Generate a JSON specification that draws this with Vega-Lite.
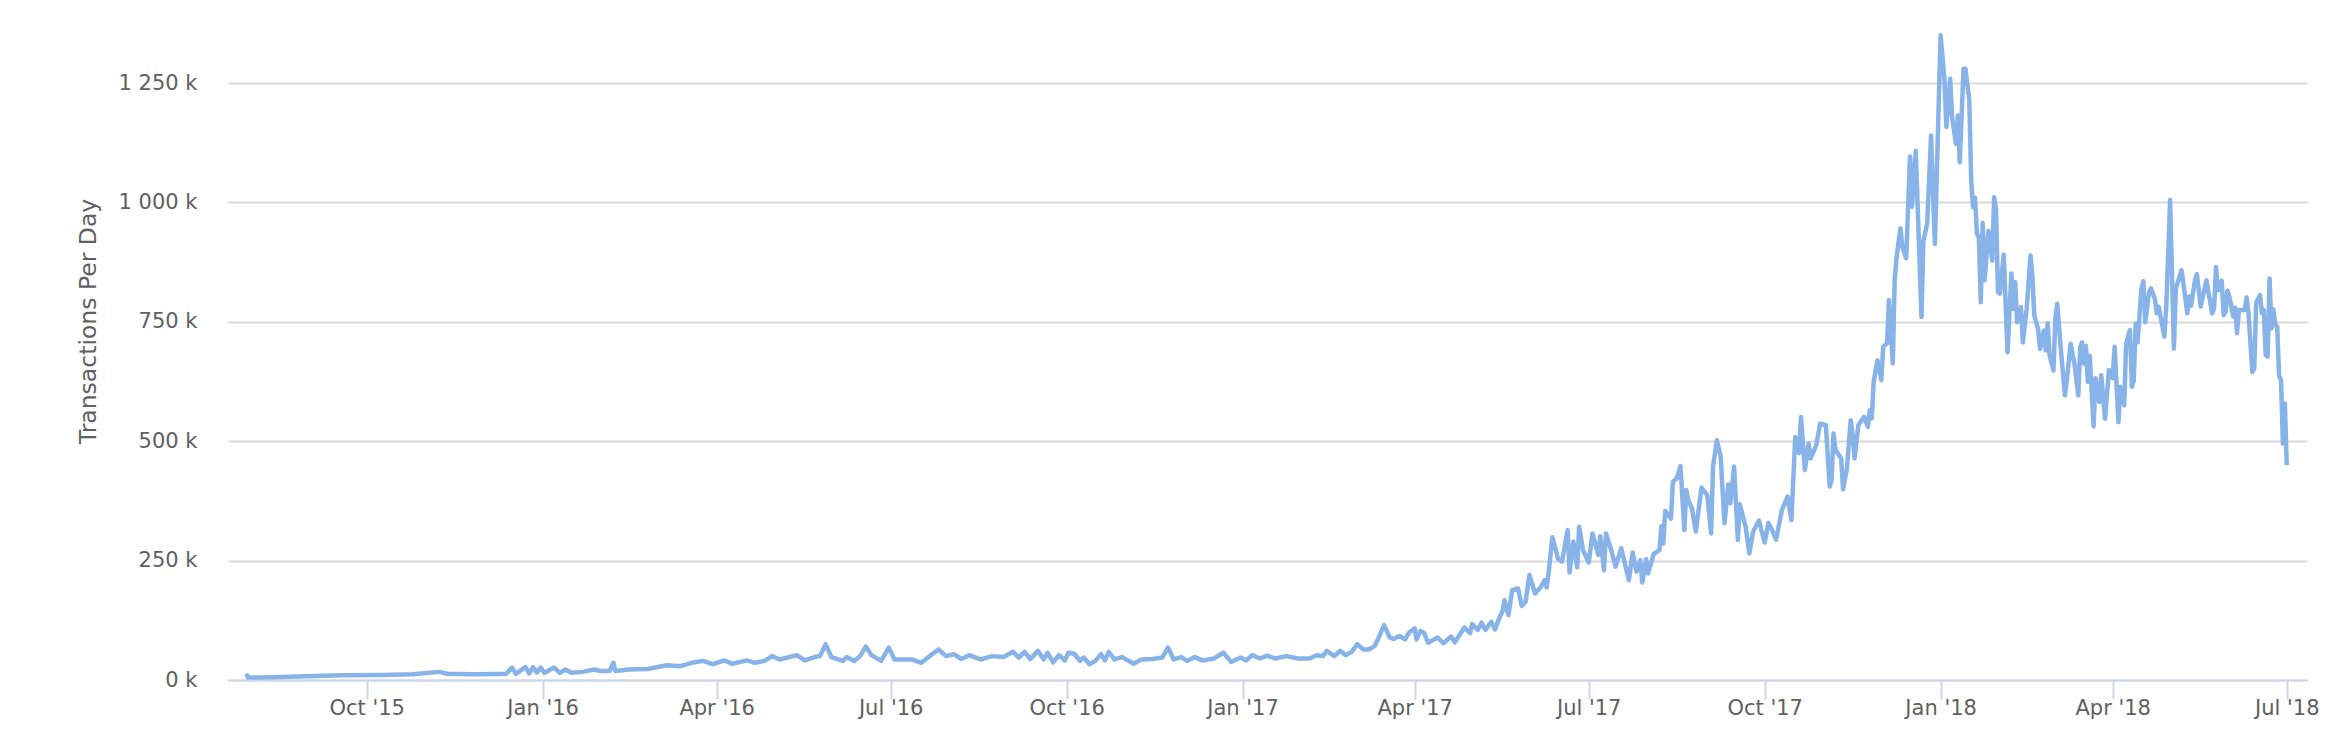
{
  "$schema": "https://vega.github.io/schema/vega-lite/v6.json",
  "width": 2079,
  "height": 659,
  "autosize": {"type": "none"},
  "padding": {"left": 228, "top": 21, "right": 41, "bottom": 62},
  "background": "white",
  "config": {"view": {"stroke": null}},
  "data": {
    "values": [
      {"d": "2015-07-30", "v": 13000}, {"d": "2015-07-31", "v": 5000}, {"d": "2015-08-13", "v": 6000},
      {"d": "2015-08-30", "v": 8000}, {"d": "2015-09-19", "v": 10000}, {"d": "2015-10-09", "v": 10500},
      {"d": "2015-10-25", "v": 12000}, {"d": "2015-11-08", "v": 17000}, {"d": "2015-11-12", "v": 13000},
      {"d": "2015-11-26", "v": 12000}, {"d": "2015-12-08", "v": 12500}, {"d": "2015-12-13", "v": 13000},
      {"d": "2015-12-16", "v": 26000}, {"d": "2015-12-18", "v": 13000}, {"d": "2015-12-23", "v": 27000},
      {"d": "2015-12-25", "v": 14000}, {"d": "2015-12-27", "v": 27000}, {"d": "2015-12-29", "v": 16000},
      {"d": "2015-12-31", "v": 26000}, {"d": "2016-01-02", "v": 15000}, {"d": "2016-01-07", "v": 26000},
      {"d": "2016-01-10", "v": 15000}, {"d": "2016-01-13", "v": 22000}, {"d": "2016-01-16", "v": 15000},
      {"d": "2016-01-22", "v": 17000}, {"d": "2016-01-28", "v": 22000}, {"d": "2016-01-31", "v": 19000},
      {"d": "2016-02-05", "v": 19000}, {"d": "2016-02-07", "v": 36000}, {"d": "2016-02-08", "v": 19000},
      {"d": "2016-02-15", "v": 22000}, {"d": "2016-02-25", "v": 23000}, {"d": "2016-03-06", "v": 31000},
      {"d": "2016-03-13", "v": 29000}, {"d": "2016-03-19", "v": 36000}, {"d": "2016-03-25", "v": 40000},
      {"d": "2016-03-30", "v": 33000}, {"d": "2016-04-05", "v": 41000}, {"d": "2016-04-09", "v": 34000},
      {"d": "2016-04-17", "v": 41000}, {"d": "2016-04-21", "v": 36000}, {"d": "2016-04-26", "v": 40000},
      {"d": "2016-04-30", "v": 50000}, {"d": "2016-05-04", "v": 43000}, {"d": "2016-05-13", "v": 52000},
      {"d": "2016-05-17", "v": 41000}, {"d": "2016-05-23", "v": 49000}, {"d": "2016-05-25", "v": 50000},
      {"d": "2016-05-28", "v": 75000}, {"d": "2016-05-31", "v": 48000}, {"d": "2016-06-06", "v": 40000},
      {"d": "2016-06-08", "v": 48000}, {"d": "2016-06-12", "v": 40000}, {"d": "2016-06-15", "v": 50000},
      {"d": "2016-06-18", "v": 70000}, {"d": "2016-06-21", "v": 52000}, {"d": "2016-06-26", "v": 40000},
      {"d": "2016-06-30", "v": 68000}, {"d": "2016-07-03", "v": 43000}, {"d": "2016-07-12", "v": 43000},
      {"d": "2016-07-17", "v": 36000}, {"d": "2016-07-22", "v": 52000}, {"d": "2016-07-26", "v": 64000},
      {"d": "2016-07-30", "v": 50000}, {"d": "2016-08-03", "v": 54000}, {"d": "2016-08-07", "v": 44000},
      {"d": "2016-08-11", "v": 52000}, {"d": "2016-08-17", "v": 43000}, {"d": "2016-08-23", "v": 50000},
      {"d": "2016-08-29", "v": 48000}, {"d": "2016-09-03", "v": 59000}, {"d": "2016-09-06", "v": 47000},
      {"d": "2016-09-09", "v": 59000}, {"d": "2016-09-12", "v": 44000}, {"d": "2016-09-16", "v": 61000},
      {"d": "2016-09-19", "v": 43000}, {"d": "2016-09-21", "v": 57000}, {"d": "2016-09-24", "v": 37000},
      {"d": "2016-09-27", "v": 52000}, {"d": "2016-09-30", "v": 41000}, {"d": "2016-10-02", "v": 57000},
      {"d": "2016-10-05", "v": 55000}, {"d": "2016-10-08", "v": 40000}, {"d": "2016-10-10", "v": 47000},
      {"d": "2016-10-13", "v": 33000}, {"d": "2016-10-16", "v": 40000}, {"d": "2016-10-19", "v": 54000},
      {"d": "2016-10-21", "v": 41000}, {"d": "2016-10-23", "v": 59000}, {"d": "2016-10-26", "v": 43000},
      {"d": "2016-10-30", "v": 48000}, {"d": "2016-11-02", "v": 41000}, {"d": "2016-11-05", "v": 34000},
      {"d": "2016-11-09", "v": 43000}, {"d": "2016-11-15", "v": 44000}, {"d": "2016-11-20", "v": 47000},
      {"d": "2016-11-23", "v": 68000}, {"d": "2016-11-26", "v": 43000}, {"d": "2016-11-30", "v": 48000},
      {"d": "2016-12-03", "v": 40000}, {"d": "2016-12-07", "v": 48000}, {"d": "2016-12-11", "v": 41000},
      {"d": "2016-12-17", "v": 45000}, {"d": "2016-12-22", "v": 57000}, {"d": "2016-12-26", "v": 38000},
      {"d": "2016-12-31", "v": 47000}, {"d": "2017-01-03", "v": 41000}, {"d": "2017-01-06", "v": 52000},
      {"d": "2017-01-10", "v": 45000}, {"d": "2017-01-14", "v": 51000}, {"d": "2017-01-18", "v": 45000},
      {"d": "2017-01-24", "v": 50000}, {"d": "2017-01-30", "v": 45000}, {"d": "2017-02-05", "v": 45000},
      {"d": "2017-02-09", "v": 52000}, {"d": "2017-02-12", "v": 50000}, {"d": "2017-02-14", "v": 61000},
      {"d": "2017-02-18", "v": 50000}, {"d": "2017-02-21", "v": 61000}, {"d": "2017-02-24", "v": 52000},
      {"d": "2017-02-27", "v": 59000}, {"d": "2017-03-02", "v": 75000}, {"d": "2017-03-05", "v": 64000},
      {"d": "2017-03-08", "v": 64000}, {"d": "2017-03-11", "v": 71000}, {"d": "2017-03-13", "v": 87000},
      {"d": "2017-03-16", "v": 115000}, {"d": "2017-03-19", "v": 89000}, {"d": "2017-03-21", "v": 86000},
      {"d": "2017-03-24", "v": 92000}, {"d": "2017-03-27", "v": 85000}, {"d": "2017-03-29", "v": 99000},
      {"d": "2017-04-01", "v": 108000}, {"d": "2017-04-02", "v": 85000}, {"d": "2017-04-04", "v": 103000},
      {"d": "2017-04-06", "v": 98000}, {"d": "2017-04-08", "v": 78000}, {"d": "2017-04-13", "v": 89000},
      {"d": "2017-04-16", "v": 77000}, {"d": "2017-04-20", "v": 91000}, {"d": "2017-04-22", "v": 79000},
      {"d": "2017-04-27", "v": 110000}, {"d": "2017-04-30", "v": 98000}, {"d": "2017-05-01", "v": 117000},
      {"d": "2017-05-04", "v": 105000}, {"d": "2017-05-06", "v": 120000}, {"d": "2017-05-08", "v": 105000},
      {"d": "2017-05-11", "v": 122000}, {"d": "2017-05-13", "v": 106000}, {"d": "2017-05-15", "v": 127000},
      {"d": "2017-05-17", "v": 145000}, {"d": "2017-05-18", "v": 167000}, {"d": "2017-05-20", "v": 136000},
      {"d": "2017-05-22", "v": 188000}, {"d": "2017-05-25", "v": 192000}, {"d": "2017-05-27", "v": 155000},
      {"d": "2017-05-29", "v": 164000}, {"d": "2017-05-31", "v": 220000}, {"d": "2017-06-03", "v": 181000},
      {"d": "2017-06-06", "v": 195000}, {"d": "2017-06-08", "v": 209000}, {"d": "2017-06-09", "v": 194000},
      {"d": "2017-06-10", "v": 223000}, {"d": "2017-06-12", "v": 299000}, {"d": "2017-06-14", "v": 269000},
      {"d": "2017-06-15", "v": 253000}, {"d": "2017-06-17", "v": 248000}, {"d": "2017-06-20", "v": 314000},
      {"d": "2017-06-21", "v": 225000}, {"d": "2017-06-23", "v": 290000}, {"d": "2017-06-25", "v": 236000},
      {"d": "2017-06-26", "v": 321000}, {"d": "2017-06-28", "v": 272000}, {"d": "2017-07-01", "v": 246000},
      {"d": "2017-07-03", "v": 307000}, {"d": "2017-07-06", "v": 262000}, {"d": "2017-07-07", "v": 301000},
      {"d": "2017-07-09", "v": 230000}, {"d": "2017-07-10", "v": 307000}, {"d": "2017-07-13", "v": 269000},
      {"d": "2017-07-15", "v": 237000}, {"d": "2017-07-18", "v": 276000}, {"d": "2017-07-22", "v": 209000},
      {"d": "2017-07-24", "v": 267000}, {"d": "2017-07-26", "v": 227000}, {"d": "2017-07-28", "v": 251000},
      {"d": "2017-07-29", "v": 204000}, {"d": "2017-07-31", "v": 253000}, {"d": "2017-08-01", "v": 223000},
      {"d": "2017-08-04", "v": 264000}, {"d": "2017-08-07", "v": 272000}, {"d": "2017-08-08", "v": 322000},
      {"d": "2017-08-09", "v": 286000}, {"d": "2017-08-10", "v": 354000}, {"d": "2017-08-13", "v": 338000},
      {"d": "2017-08-14", "v": 415000}, {"d": "2017-08-16", "v": 422000}, {"d": "2017-08-18", "v": 448000},
      {"d": "2017-08-20", "v": 314000}, {"d": "2017-08-21", "v": 398000}, {"d": "2017-08-22", "v": 377000},
      {"d": "2017-08-24", "v": 359000}, {"d": "2017-08-26", "v": 311000}, {"d": "2017-08-29", "v": 403000},
      {"d": "2017-09-01", "v": 387000}, {"d": "2017-09-03", "v": 307000}, {"d": "2017-09-04", "v": 447000},
      {"d": "2017-09-06", "v": 502000}, {"d": "2017-09-08", "v": 468000}, {"d": "2017-09-10", "v": 328000},
      {"d": "2017-09-12", "v": 410000}, {"d": "2017-09-13", "v": 370000}, {"d": "2017-09-15", "v": 447000},
      {"d": "2017-09-17", "v": 293000}, {"d": "2017-09-18", "v": 368000}, {"d": "2017-09-21", "v": 322000},
      {"d": "2017-09-23", "v": 265000}, {"d": "2017-09-25", "v": 311000}, {"d": "2017-09-28", "v": 334000},
      {"d": "2017-10-01", "v": 288000}, {"d": "2017-10-03", "v": 329000}, {"d": "2017-10-05", "v": 313000},
      {"d": "2017-10-07", "v": 294000}, {"d": "2017-10-10", "v": 356000}, {"d": "2017-10-13", "v": 384000},
      {"d": "2017-10-15", "v": 335000}, {"d": "2017-10-17", "v": 509000}, {"d": "2017-10-19", "v": 475000},
      {"d": "2017-10-20", "v": 551000}, {"d": "2017-10-22", "v": 440000}, {"d": "2017-10-24", "v": 495000},
      {"d": "2017-10-25", "v": 464000}, {"d": "2017-10-28", "v": 492000}, {"d": "2017-10-30", "v": 537000},
      {"d": "2017-11-02", "v": 534000}, {"d": "2017-11-04", "v": 405000}, {"d": "2017-11-05", "v": 419000},
      {"d": "2017-11-06", "v": 516000}, {"d": "2017-11-07", "v": 482000}, {"d": "2017-11-10", "v": 464000},
      {"d": "2017-11-11", "v": 399000}, {"d": "2017-11-13", "v": 443000}, {"d": "2017-11-15", "v": 544000},
      {"d": "2017-11-16", "v": 513000}, {"d": "2017-11-17", "v": 464000}, {"d": "2017-11-19", "v": 534000},
      {"d": "2017-11-22", "v": 551000}, {"d": "2017-11-24", "v": 530000}, {"d": "2017-11-25", "v": 565000},
      {"d": "2017-11-26", "v": 548000}, {"d": "2017-11-27", "v": 625000}, {"d": "2017-11-29", "v": 669000},
      {"d": "2017-12-01", "v": 628000}, {"d": "2017-12-02", "v": 698000}, {"d": "2017-12-04", "v": 705000},
      {"d": "2017-12-05", "v": 796000}, {"d": "2017-12-07", "v": 663000}, {"d": "2017-12-08", "v": 837000},
      {"d": "2017-12-09", "v": 886000}, {"d": "2017-12-11", "v": 946000}, {"d": "2017-12-12", "v": 907000},
      {"d": "2017-12-14", "v": 883000}, {"d": "2017-12-16", "v": 1096000}, {"d": "2017-12-17", "v": 991000},
      {"d": "2017-12-19", "v": 1108000}, {"d": "2017-12-22", "v": 760000}, {"d": "2017-12-23", "v": 920000},
      {"d": "2017-12-25", "v": 956000}, {"d": "2017-12-27", "v": 1140000}, {"d": "2017-12-29", "v": 913000},
      {"d": "2018-01-01", "v": 1350000}, {"d": "2018-01-03", "v": 1259000}, {"d": "2018-01-04", "v": 1158000},
      {"d": "2018-01-06", "v": 1259000}, {"d": "2018-01-07", "v": 1179000}, {"d": "2018-01-09", "v": 1123000},
      {"d": "2018-01-10", "v": 1182000}, {"d": "2018-01-11", "v": 1084000}, {"d": "2018-01-13", "v": 1280000},
      {"d": "2018-01-14", "v": 1280000}, {"d": "2018-01-16", "v": 1214000}, {"d": "2018-01-17", "v": 1046000},
      {"d": "2018-01-18", "v": 990000}, {"d": "2018-01-19", "v": 1010000}, {"d": "2018-01-20", "v": 934000},
      {"d": "2018-01-21", "v": 927000}, {"d": "2018-01-22", "v": 791000}, {"d": "2018-01-23", "v": 957000},
      {"d": "2018-01-24", "v": 837000}, {"d": "2018-01-26", "v": 941000}, {"d": "2018-01-28", "v": 878000},
      {"d": "2018-01-29", "v": 1011000}, {"d": "2018-01-30", "v": 983000}, {"d": "2018-01-31", "v": 812000},
      {"d": "2018-02-01", "v": 809000}, {"d": "2018-02-03", "v": 891000}, {"d": "2018-02-05", "v": 686000},
      {"d": "2018-02-07", "v": 851000}, {"d": "2018-02-08", "v": 777000}, {"d": "2018-02-09", "v": 833000},
      {"d": "2018-02-10", "v": 749000}, {"d": "2018-02-12", "v": 781000}, {"d": "2018-02-13", "v": 707000},
      {"d": "2018-02-15", "v": 777000}, {"d": "2018-02-17", "v": 889000}, {"d": "2018-02-18", "v": 844000},
      {"d": "2018-02-19", "v": 763000}, {"d": "2018-02-21", "v": 735000}, {"d": "2018-02-22", "v": 693000},
      {"d": "2018-02-24", "v": 732000}, {"d": "2018-02-25", "v": 690000}, {"d": "2018-02-26", "v": 747000},
      {"d": "2018-02-27", "v": 679000}, {"d": "2018-03-01", "v": 648000}, {"d": "2018-03-02", "v": 756000},
      {"d": "2018-03-03", "v": 788000}, {"d": "2018-03-05", "v": 686000}, {"d": "2018-03-07", "v": 596000},
      {"d": "2018-03-08", "v": 627000}, {"d": "2018-03-10", "v": 704000}, {"d": "2018-03-12", "v": 662000},
      {"d": "2018-03-14", "v": 596000}, {"d": "2018-03-15", "v": 697000}, {"d": "2018-03-16", "v": 707000},
      {"d": "2018-03-17", "v": 662000}, {"d": "2018-03-18", "v": 700000}, {"d": "2018-03-19", "v": 624000},
      {"d": "2018-03-20", "v": 679000}, {"d": "2018-03-22", "v": 531000}, {"d": "2018-03-23", "v": 632000},
      {"d": "2018-03-25", "v": 582000}, {"d": "2018-03-26", "v": 638000}, {"d": "2018-03-28", "v": 547000},
      {"d": "2018-03-30", "v": 649000}, {"d": "2018-04-01", "v": 632000}, {"d": "2018-04-02", "v": 698000},
      {"d": "2018-04-04", "v": 540000}, {"d": "2018-04-05", "v": 614000}, {"d": "2018-04-07", "v": 575000},
      {"d": "2018-04-08", "v": 704000}, {"d": "2018-04-10", "v": 733000}, {"d": "2018-04-11", "v": 614000},
      {"d": "2018-04-12", "v": 627000}, {"d": "2018-04-13", "v": 746000}, {"d": "2018-04-14", "v": 707000},
      {"d": "2018-04-16", "v": 819000}, {"d": "2018-04-17", "v": 835000}, {"d": "2018-04-18", "v": 749000},
      {"d": "2018-04-20", "v": 812000}, {"d": "2018-04-21", "v": 820000}, {"d": "2018-04-23", "v": 799000},
      {"d": "2018-04-24", "v": 768000}, {"d": "2018-04-25", "v": 782000}, {"d": "2018-04-26", "v": 761000},
      {"d": "2018-04-28", "v": 719000}, {"d": "2018-04-29", "v": 782000}, {"d": "2018-05-01", "v": 1005000},
      {"d": "2018-05-03", "v": 694000}, {"d": "2018-05-04", "v": 820000}, {"d": "2018-05-07", "v": 858000},
      {"d": "2018-05-10", "v": 768000}, {"d": "2018-05-11", "v": 803000}, {"d": "2018-05-12", "v": 784000},
      {"d": "2018-05-14", "v": 837000}, {"d": "2018-05-15", "v": 850000}, {"d": "2018-05-17", "v": 782000},
      {"d": "2018-05-20", "v": 837000}, {"d": "2018-05-23", "v": 768000}, {"d": "2018-05-24", "v": 778000},
      {"d": "2018-05-25", "v": 865000}, {"d": "2018-05-26", "v": 816000}, {"d": "2018-05-28", "v": 836000},
      {"d": "2018-05-29", "v": 764000}, {"d": "2018-05-30", "v": 771000}, {"d": "2018-05-31", "v": 815000},
      {"d": "2018-06-01", "v": 803000}, {"d": "2018-06-03", "v": 761000}, {"d": "2018-06-04", "v": 780000},
      {"d": "2018-06-05", "v": 726000}, {"d": "2018-06-06", "v": 775000}, {"d": "2018-06-09", "v": 775000},
      {"d": "2018-06-10", "v": 801000}, {"d": "2018-06-11", "v": 768000}, {"d": "2018-06-13", "v": 645000},
      {"d": "2018-06-14", "v": 652000}, {"d": "2018-06-15", "v": 789000}, {"d": "2018-06-17", "v": 806000},
      {"d": "2018-06-18", "v": 768000}, {"d": "2018-06-19", "v": 775000}, {"d": "2018-06-20", "v": 680000},
      {"d": "2018-06-21", "v": 677000}, {"d": "2018-06-22", "v": 841000}, {"d": "2018-06-23", "v": 736000},
      {"d": "2018-06-24", "v": 776000}, {"d": "2018-06-25", "v": 743000}, {"d": "2018-06-26", "v": 740000},
      {"d": "2018-06-27", "v": 638000}, {"d": "2018-06-28", "v": 628000}, {"d": "2018-06-29", "v": 495000},
      {"d": "2018-06-30", "v": 579000}, {"d": "2018-07-01", "v": 450000}
    ]
  },
  "mark": {"type": "line", "color": "#87b3e8", "strokeWidth": 4.5, "strokeJoin": "round"},
  "encoding": {
    "x": {
      "field": "d",
      "type": "temporal",
      "scale": {
        "type": "utc",
        "domain": [
          {"year": 2015, "month": "jul", "date": 20, "hours": 12, "utc": true},
          {"year": 2018, "month": "jul", "date": 11, "hours": 14, "utc": true}
        ]
      },
      "axis": {
        "title": null,
        "grid": false,
        "values": [
          {"year": 2015, "month": "oct", "date": 1, "utc": true},
          {"year": 2016, "month": "jan", "date": 1, "utc": true},
          {"year": 2016, "month": "apr", "date": 1, "utc": true},
          {"year": 2016, "month": "jul", "date": 1, "utc": true},
          {"year": 2016, "month": "oct", "date": 1, "utc": true},
          {"year": 2017, "month": "jan", "date": 1, "utc": true},
          {"year": 2017, "month": "apr", "date": 1, "utc": true},
          {"year": 2017, "month": "jul", "date": 1, "utc": true},
          {"year": 2017, "month": "oct", "date": 1, "utc": true},
          {"year": 2018, "month": "jan", "date": 1, "utc": true},
          {"year": 2018, "month": "apr", "date": 1, "utc": true},
          {"year": 2018, "month": "jul", "date": 1, "utc": true}
        ],
        "format": "%b '%y",
        "domainColor": "#ccd6eb",
        "domainWidth": 2,
        "tickColor": "#ccd6eb",
        "tickWidth": 2,
        "tickSize": 19,
        "labelPadding": -2,
        "labelFont": "DejaVu Sans",
        "labelFontSize": 21,
        "labelColor": "#606060",
        "labelFlush": false,
        "labelOverlap": false
      }
    },
    "y": {
      "field": "v",
      "type": "quantitative",
      "scale": {"domain": [0, 1380000], "nice": false},
      "axis": {
        "title": "Transactions Per Day",
        "values": [0, 250000, 500000, 750000, 1000000, 1250000],
        "labelExpr": "replace(format(datum.value / 1000, ','), ',', ' ') + ' k'",
        "domain": false,
        "ticks": false,
        "grid": true,
        "gridColor": "#d9d9d9",
        "gridWidth": 2,
        "labelPadding": 31,
        "labelFont": "DejaVu Sans",
        "labelFontSize": 21,
        "labelColor": "#606060",
        "titleFont": "DejaVu Sans",
        "titleFontSize": 23.5,
        "titleFontWeight": "normal",
        "titleColor": "#606060",
        "titleAngle": -90,
        "titleAlign": "center",
        "titleBaseline": "middle",
        "titleX": -140,
        "titleY": 300
      }
    }
  }
}
